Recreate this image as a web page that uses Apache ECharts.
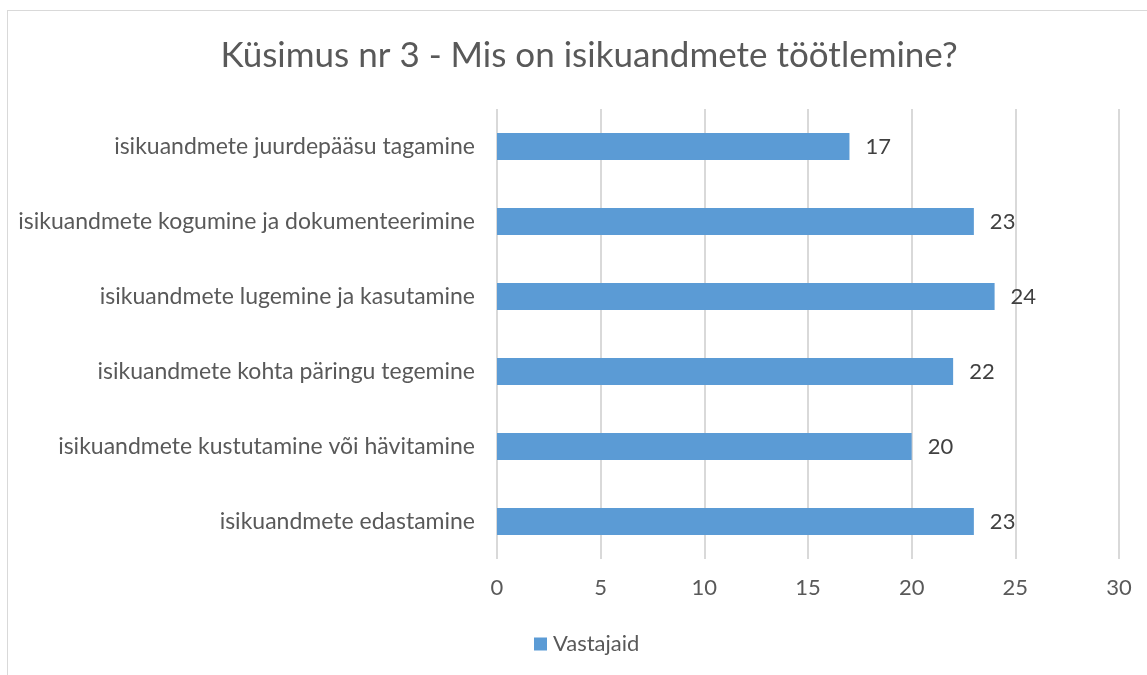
<!DOCTYPE html>
<html>
<head>
<meta charset="utf-8">
<script src="https://cdn.jsdelivr.net/npm/echarts@6/dist/echarts.min.js"></script>
<style>
    html, body { margin: 0; padding: 0; background: #fff; overflow: hidden; }
    #frame { position: absolute; left: 7px; top: 10px; width: 1300px; height: 800px; border: 1px solid #d9d9d9; }
    #chart { position: absolute; left: 0; top: 0; width: 1147px; height: 675px; }
</style>
</head>
<body>
<div id="frame"></div>
<div id="chart"></div>
<script>
    // andmed
    const categories = [
        'isikuandmete juurdepääsu tagamine',
        'isikuandmete kogumine ja dokumenteerimine',
        'isikuandmete lugemine ja kasutamine',
        'isikuandmete kohta päringu tegemine',
        'isikuandmete kustutamine või hävitamine',
        'isikuandmete edastamine'
    ];
    const vastajaid = [17, 23, 24, 22, 20, 23];
    const xTicks = [0, 5, 10, 15, 20, 25, 30];

    const font = 'Lato';
    let myChart = echarts.init(document.getElementById('chart'), null, {renderer: 'canvas'});

    let option = {
        animation: false,
        title: {
            text: 'Küsimus nr 3 - Mis on isikuandmete töötlemine?',
            left: 584,
            textAlign: 'center',
            top: 33,
            textStyle: {
                fontFamily: font,
                fontSize: 35,
                fontWeight: 'normal',
                color: '#595959'
            }
        },
        legend: {
            data: ['Vastajaid'],
            bottom: 15,
            left: 529,
            itemWidth: 13,
            itemHeight: 13,
            itemGap: 6,
            icon: 'rect',
            textStyle: {
                fontFamily: font,
                fontSize: 22,
                color: '#595959',
                padding: [0, 0, 0, 1]
            }
        },
        grid: {
            left: 497,
            right: 28,
            top: 109,
            bottom: 116
        },
        xAxis: {
            type: 'value',
            min: xTicks[0],
            max: xTicks[xTicks.length - 1],
            interval: 5,
            axisLine: {show: false},
            axisTick: {show: false},
            splitLine: {lineStyle: {color: '#d9d9d9', width: 2}},
            axisLabel: {
                margin: 18,
                fontFamily: font,
                fontSize: 22,
                color: '#595959'
            }
        },
        yAxis: {
            type: 'category',
            data: categories,
            inverse: true,
            axisLine: {show: false},
            axisTick: {show: false},
            axisLabel: {
                margin: 22,
                fontFamily: font,
                fontSize: 23,
                color: '#595959'
            }
        },
        series: [{
            name: 'Vastajaid',
            type: 'bar',
            data: vastajaid,
            barWidth: 27,
            itemStyle: {color: '#5b9bd5'},
            label: {
                show: true,
                position: 'right',
                distance: 16,
                fontFamily: font,
                fontSize: 22,
                color: '#404040'
            }
        }]
    };

    myChart.setOption(option);
</script>
</body>
</html>
